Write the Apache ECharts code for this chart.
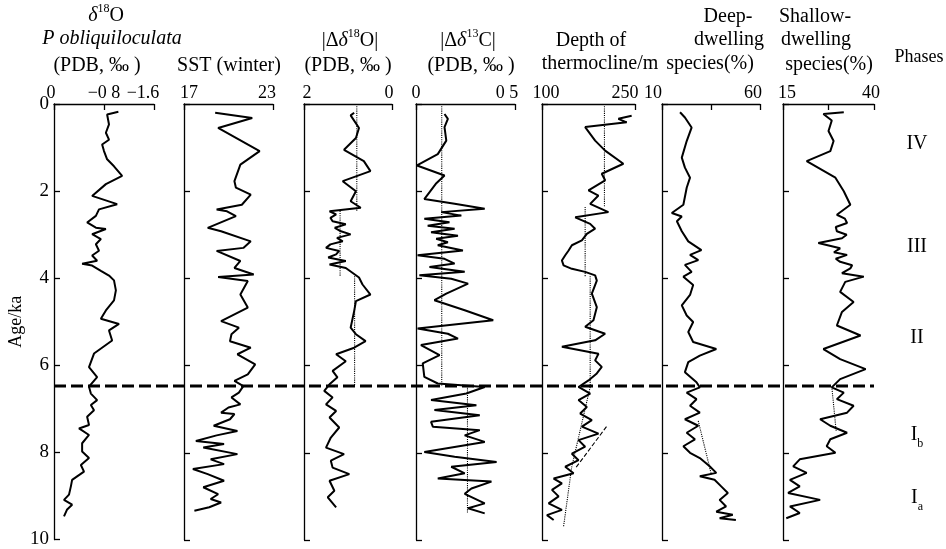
<!DOCTYPE html>
<html>
<head>
<meta charset="utf-8">
<title>Holocene profiles</title>
<style>
  html, body { margin: 0; padding: 0; background: #fff; }
  #main { width: 946px; height: 549px; }
</style>
</head>
<body>
<div id="main"></div>
<script src="https://cdn.jsdelivr.net/npm/echarts@6/dist/echarts.min.js"></script>
<script>
// every profile is a list of [age (ka), value]
var d18O = [[0.18,-1.03],[0.24,-0.85],[0.47,-0.88],[0.66,-0.83],[0.82,-0.88],[0.93,-0.77],[1.08,-0.80],[1.27,-0.85],[1.43,-0.96],[1.65,-1.09],[1.84,-0.83],[2.11,-0.61],[2.30,-1.01],[2.42,-0.72],[2.57,-0.67],[2.72,-0.53],[2.84,-0.67],[2.87,-0.83],[2.99,-0.61],[3.10,-0.75],[3.22,-0.67],[3.37,-0.72],[3.48,-0.61],[3.60,-0.69],[3.67,-0.45],[3.71,-0.61],[3.83,-0.75],[3.94,-0.88],[4.05,-0.96],[4.28,-0.99],[4.51,-0.96],[4.74,-0.83],[4.93,-0.75],[5.05,-1.04],[5.20,-0.88],[5.43,-0.93],[5.73,-0.64],[6.04,-0.56],[6.27,-0.69],[6.49,-0.56],[6.65,-0.59],[6.80,-0.69],[6.91,-0.59],[7.03,-0.64],[7.18,-0.53],[7.37,-0.56],[7.45,-0.40],[7.60,-0.56],[7.79,-0.45],[7.98,-0.45],[8.13,-0.56],[8.29,-0.43],[8.44,-0.48],[8.55,-0.37],[8.63,-0.29],[8.78,-0.27],[8.97,-0.24],[9.09,-0.16],[9.20,-0.29],[9.31,-0.21],[9.47,-0.16]];

var sstWinter = [[0.20,19.1],[0.32,21.6],[0.55,19.3],[1.08,22.1],[1.39,20.8],[1.77,20.4],[1.92,20.5],[2.08,21.5],[2.31,20.9],[2.42,19.2],[2.46,19.9],[2.57,20.5],[2.84,18.6],[2.92,19.5],[3.15,21.5],[3.30,21.0],[3.37,19.2],[3.60,20.8],[3.76,20.4],[3.91,21.7],[3.97,19.3],[4.06,21.3],[4.37,20.8],[4.67,21.3],[4.98,19.5],[5.13,20.7],[5.28,20.2],[5.44,20.1],[5.59,21.5],[5.74,20.6],[5.97,21.8],[6.20,21.3],[6.35,20.4],[6.47,21.0],[6.62,20.7],[6.73,20.2],[6.89,20.8],[6.96,20.0],[7.08,19.5],[7.11,20.4],[7.23,20.1],[7.38,19.0],[7.50,20.6],[7.60,19.2],[7.73,17.8],[7.80,19.7],[7.88,18.3],[8.03,20.6],[8.15,18.8],[8.26,19.7],[8.37,17.6],[8.49,18.6],[8.64,19.7],[8.79,18.3],[8.95,19.3],[9.06,18.8],[9.14,19.5],[9.25,18.7],[9.33,17.7]];

var dO18Abs = [[0.20,0.86],[0.26,0.94],[0.55,0.75],[0.78,0.82],[1.05,1.09],[1.31,0.64],[1.54,0.49],[1.77,1.12],[2.00,0.82],[2.23,0.94],[2.38,0.71],[2.46,1.42],[2.53,1.27],[2.61,1.40],[2.69,1.35],[2.76,1.05],[2.84,1.30],[2.92,1.16],[2.99,0.94],[3.07,1.25],[3.15,1.12],[3.22,1.40],[3.30,1.50],[3.37,1.20],[3.45,1.27],[3.52,1.45],[3.60,1.05],[3.68,1.42],[3.76,1.05],[3.87,0.90],[3.98,0.75],[4.14,0.67],[4.37,0.49],[4.52,0.82],[4.75,0.86],[5.13,0.94],[5.28,0.82],[5.44,0.60],[5.59,0.86],[5.74,1.27],[5.90,1.05],[6.12,1.35],[6.27,1.24],[6.43,1.42],[6.58,1.54],[6.73,1.35],[6.89,1.50],[7.04,1.27],[7.19,1.42],[7.42,1.20],[7.65,1.39],[7.88,1.50],[8.03,1.09],[8.18,1.39],[8.34,1.35],[8.49,0.97],[8.64,1.42],[8.87,1.31],[9.02,1.46],[9.25,1.27]];

var dC13Abs = [[0.23,0.144],[0.34,0.161],[0.53,0.144],[0.84,0.153],[1.15,0.110],[1.41,0.005],[1.64,0.144],[1.83,0.100],[2.18,0.042],[2.29,0.195],[2.40,0.347],[2.48,0.127],[2.56,0.229],[2.63,0.042],[2.71,0.169],[2.79,0.059],[2.86,0.195],[2.94,0.076],[3.02,0.212],[3.09,0.102],[3.17,0.161],[3.24,0.110],[3.36,0.237],[3.47,0.008],[3.55,0.144],[3.66,0.195],[3.74,0.068],[3.85,0.246],[3.93,0.017],[4.01,0.178],[4.12,0.263],[4.35,0.153],[4.50,0.093],[4.73,0.246],[4.96,0.390],[5.15,0.008],[5.27,0.161],[5.38,0.212],[5.53,0.025],[5.76,0.119],[5.95,0.034],[6.26,0.042],[6.41,0.110],[6.49,0.347],[6.64,0.254],[6.79,0.076],[6.91,0.305],[7.02,0.093],[7.14,0.322],[7.29,0.076],[7.40,0.085],[7.48,0.322],[7.60,0.246],[7.75,0.347],[7.98,0.042],[8.09,0.195],[8.21,0.407],[8.32,0.178],[8.47,0.246],[8.59,0.110],[8.66,0.381],[8.82,0.280],[8.94,0.246],[9.16,0.347],[9.27,0.263],[9.39,0.347]];

var thermocline = [[0.27,244.6],[0.34,223.2],[0.42,236.6],[0.53,169.6],[0.84,185.7],[1.07,201.8],[1.37,231.2],[1.60,196.4],[1.75,201.8],[1.98,175.0],[2.10,191.0],[2.29,177.7],[2.48,207.1],[2.60,153.6],[2.75,177.7],[2.86,185.7],[2.98,172.3],[3.13,164.3],[3.24,148.2],[3.36,142.9],[3.47,137.5],[3.59,132.1],[3.70,134.8],[3.78,148.2],[3.85,169.6],[3.93,185.7],[4.05,188.4],[4.35,180.4],[4.66,188.4],[4.96,183.0],[5.11,169.6],[5.27,201.8],[5.42,185.7],[5.57,132.1],[5.73,191.1],[5.88,185.7],[6.03,196.4],[6.18,188.4],[6.34,175.0],[6.49,158.9],[6.64,177.7],[6.79,158.9],[6.95,172.3],[7.10,161.6],[7.25,180.4],[7.40,164.3],[7.56,191.1],[7.71,158.9],[7.86,169.6],[8.02,148.2],[8.17,158.9],[8.32,137.5],[8.47,150.9],[8.59,118.8],[8.70,132.1],[8.85,116.1],[9.00,126.8],[9.16,110.7],[9.31,132.1],[9.43,108.0],[9.54,118.8]];

var deepDwelling = [[0.19,19.2],[0.31,21.7],[0.54,25.1],[0.85,22.6],[1.23,20.1],[1.46,21.7],[1.69,24.3],[1.92,22.6],[2.31,20.9],[2.50,15.0],[2.58,20.1],[2.69,17.6],[2.92,20.1],[3.15,23.4],[3.35,30.1],[3.46,24.3],[3.58,28.5],[3.69,21.7],[3.85,25.1],[3.96,20.9],[4.15,25.9],[4.38,24.3],[4.62,20.1],[4.85,22.6],[5.00,25.9],[5.23,23.4],[5.46,25.9],[5.62,37.7],[5.77,29.3],[5.92,23.4],[6.15,21.7],[6.38,27.6],[6.50,29.3],[6.62,22.6],[6.77,27.6],[6.92,24.3],[7.08,29.3],[7.23,21.7],[7.38,28.5],[7.54,22.6],[7.69,26.8],[7.85,20.9],[8.00,24.3],[8.12,29.3],[8.31,34.3],[8.46,37.7],[8.54,29.3],[8.62,36.8],[8.77,40.2],[8.92,43.6],[9.08,39.4],[9.23,42.7],[9.35,37.7],[9.42,46.1],[9.50,39.4],[9.54,47.7]];

var shallowDwelling = [[0.19,31.7],[0.23,26.1],[0.38,28.4],[0.62,27.5],[0.85,28.9],[1.08,28.0],[1.31,21.5],[1.69,29.4],[2.00,31.7],[2.31,33.5],[2.54,29.8],[2.63,32.0],[2.73,32.6],[2.82,29.5],[2.92,29.8],[3.00,32.5],[3.08,31.2],[3.19,24.7],[3.31,30.7],[3.40,29.0],[3.46,32.6],[3.55,29.5],[3.62,30.7],[3.70,34.0],[3.77,33.5],[3.88,31.2],[3.96,37.2],[4.08,32.1],[4.31,30.7],[4.54,34.4],[4.77,31.2],[5.08,29.8],[5.31,36.3],[5.62,26.1],[5.85,30.7],[6.08,37.7],[6.31,30.7],[6.50,28.4],[6.62,31.7],[6.77,29.8],[6.92,34.4],[7.08,32.6],[7.23,25.2],[7.38,28.0],[7.54,32.6],[7.69,28.0],[7.85,27.0],[8.00,29.4],[8.15,19.6],[8.31,17.8],[8.46,21.5],[8.62,16.9],[8.77,19.6],[8.92,16.4],[9.08,25.2],[9.23,16.9],[9.38,19.6],[9.50,15.9]];

// dotted / dashed guide segments: [panel, line type, points]
var guideLines = [
  [2, 'dotted', [[0, 0.80], [2.45, 0.80]]],
  [2, 'dotted', [[2.45, 1.18], [3.95, 1.18]]],
  [2, 'dotted', [[3.95, 0.85], [6.47, 0.85]]],
  [3, 'dotted', [[0, 0.13], [6.47, 0.13]]],
  [3, 'dotted', [[6.47, 0.26], [9.40, 0.26]]],
  [4, 'dotted', [[0, 200.7], [2.36, 200.7]]],
  [4, 'dotted', [[2.36, 169.6], [3.95, 169.6]]],
  [4, 'dotted', [[3.95, 177.7], [6.47, 177.7]]],
  [4, 'dotted', [[6.49, 177.7], [8.32, 148.0], [9.69, 134.8]]],
  [4, 'dashed', [[7.40, 204.0], [8.36, 153.6]]],
  [5, 'dotted', [[7.27, 28.5], [8.50, 35.2]]],
  [6, 'dotted', [[6.48, 28.4], [7.50, 29.6]]]
];

var profiles = [d18O, sstWinter, dO18Abs, dC13Abs, thermocline, deepDwelling, shallowDwelling];

var axisMin = [-1.6, 17, 0, 0, 100, 10, 15];
var axisMax = [0, 23, 2, 0.5, 250, 60, 40];
var axisInverse = [true, false, true, false, false, false, false];
var tickVals = [[-1.6, -0.8, 0], [17, 23], [0, 2], [0, 0.5], [100, 250], [10, 35, 60], [15, 27.5, 40]];
var labelVals = [[0, -0.8, -1.6], [17, 23], [2, 0], [0, 0.5], [100, 250], [10, 60], [15, 40]];
var labelText = [['0', '−0 8', '−1.6'], ['17', '23'], ['2', '0'], ['0', '0 5'], ['100', '250'], ['10', '60'], ['15', '40']];
var ageTicks = [0, 2, 4, 6, 8, 10];
var boundaryAge = 6.47;
var phases = [['IV', 0.92], ['III', 3.27], ['II', 5.35], ['I_b', 7.58], ['I_a', 9.04]];

var titleLines = [
  ['{d|δ}{s|18}O', '{d|P obliquiloculata}', '(PDB, ‰ )'],
  ['SST (winter)'],
  ['|Δ{d|δ}{s|18}O|', '(PDB, ‰ )'],
  ['|Δ{d|δ}{s|13}C|', '(PDB, ‰ )'],
  ['Depth of', 'thermocline/m'],
  ['Deep-', 'dwelling', 'species(%)'],
  ['Shallow-', 'dwelling', 'species(%)'],
  ['Phases']
];

var FONT = '"Liberation Serif", "Times New Roman", serif';
var INK = '#000';
var TOP = 104, BOTTOM = 9;
// panel boxes [left, width]
var boxes = [[54, 100], [184, 89], [304, 88], [416, 99], [542, 93], [662, 98], [783, 91]];
// horizontal nudge of top tick labels (px)
var labelShift = [[-3, 0, -11], [5, -6], [3, -3], [0, -8], [4, -10], [-9, -7], [4, -3]];
// title anchors [x, y] per line
var titlePos = [
  [[106, 16], [112, 39], [97, 66]],
  [[229, 66]],
  [[350, 41], [348, 66]],
  [[468, 41], [471, 66]],
  [[591, 41], [600, 64]],
  [[728, 17], [729, 40], [710, 64]],
  [[815, 17], [816, 40], [829, 65]],
  [[919, 57]]
];

var titleRich = {
  d: { fontStyle: 'italic', fontSize: 20, fontFamily: FONT, fill: INK, lineHeight: 26 },
  s: { fontSize: 12, fontFamily: FONT, fill: INK, verticalAlign: 'top', lineHeight: 26 }
};

function padStyle(s) {
  return {
    fontSize: 18, fontFamily: FONT, color: INK,
    padding: s >= 0 ? [0, 0, 0, 2 * s] : [0, -2 * s, 0, 0]
  };
}

var grids = [], xAxes = [], yAxes = [], series = [];

boxes.forEach(function (b, i) {
  grids.push({ left: b[0], width: b[1], top: TOP, bottom: BOTTOM });
  var rich = {};
  labelShift[i].forEach(function (s, k) { rich['s' + k] = padStyle(s); });
  xAxes.push({
    gridIndex: i, type: 'value', position: 'top',
    min: axisMin[i], max: axisMax[i], inverse: axisInverse[i],
    axisLine: { show: true, onZero: false, lineStyle: { color: INK, width: 1.3 } },
    axisTick: { show: true, inside: true, length: 6, customValues: tickVals[i], lineStyle: { color: INK, width: 1.3 } },
    axisLabel: {
      show: true, customValues: labelVals[i], margin: 2,
      fontSize: 18, fontFamily: FONT, color: INK, rich: rich,
      formatter: (function (idx) {
        return function (v) {
          var k = labelVals[idx].findIndex(function (t) { return Math.abs(t - v) < 1e-9; });
          if (k < 0) return '';
          return '{s' + k + '|' + labelText[idx][k] + '}';
        };
      })(i)
    },
    splitLine: { show: false }
  });
  var ya = {
    gridIndex: i, type: 'value', inverse: true, min: 0, max: 10,
    axisLine: { show: true, onZero: false, lineStyle: { color: INK, width: 1.3 } },
    axisTick: { show: true, inside: true, length: 6, customValues: ageTicks, lineStyle: { color: INK, width: 1.3 } },
    axisLabel: { show: i === 0, customValues: ageTicks, margin: 5, fontSize: 19, fontFamily: FONT, color: INK },
    splitLine: { show: false }
  };
  if (i === 0) {
    ya.name = 'Age/ka';
    ya.nameLocation = 'middle';
    ya.nameGap = 29;
    ya.nameRotate = 90;
    ya.nameTextStyle = { fontSize: 18, fontFamily: FONT, color: INK };
  }
  yAxes.push(ya);
  series.push({
    type: 'line', xAxisIndex: i, yAxisIndex: i, symbol: 'none', z: 4,
    lineStyle: { color: INK, width: 2 },
    data: profiles[i].map(function (p) { return [p[1], p[0]]; })
  });
});

guideLines.forEach(function (g) {
  series.push({
    type: 'line', xAxisIndex: g[0], yAxisIndex: g[0], symbol: 'none', z: 3,
    lineStyle: { color: INK, width: 1.1, type: g[1] },
    data: g[2].map(function (p) { return [p[1], p[0]]; })
  });
});

// full-width boundary line (index 7) and phase column (index 8)
grids.push({ left: 54, width: 820, top: TOP, bottom: BOTTOM });
xAxes.push({ gridIndex: 7, type: 'value', min: 0, max: 1, show: false });
yAxes.push({ gridIndex: 7, type: 'value', inverse: true, min: 0, max: 10, show: false });
series.push({
  type: 'line', xAxisIndex: 7, yAxisIndex: 7, symbol: 'none', z: 6,
  lineStyle: { color: INK, width: 3, type: [12, 5] },
  data: [[0, boundaryAge], [1, boundaryAge]]
});
grids.push({ left: 890, width: 54, top: TOP, bottom: BOTTOM });
xAxes.push({ gridIndex: 8, type: 'value', min: 0, max: 1, show: false });
yAxes.push({ gridIndex: 8, type: 'value', inverse: true, min: 0, max: 10, show: false });

var graphics = [];
titleLines.forEach(function (lines, i) {
  lines.forEach(function (t, k) {
    graphics.push({
      type: 'text', x: titlePos[i][k][0], y: titlePos[i][k][1], silent: true,
      style: {
        text: t, align: 'center', verticalAlign: 'middle',
        fontSize: i === 7 ? 18 : 20, fontFamily: FONT, fill: INK, rich: titleRich
      }
    });
  });
});

var myChart = echarts.init(document.getElementById('main'), null, { renderer: 'canvas' });
myChart.setOption({
  backgroundColor: '#fff',
  animation: false,
  grid: grids,
  xAxis: xAxes,
  yAxis: yAxes,
  series: series,
  graphic: graphics
});

// phase labels placed on the age scale of the phase column
phases.forEach(function (p) {
  var pt = myChart.convertToPixel({ xAxisIndex: 8, yAxisIndex: 8 }, [0.5, p[1]]);
  graphics.push({
    type: 'text', x: pt[0], y: pt[1], silent: true,
    style: {
      text: p[0].replace(/_(\w)/, '{sub|$1}'), align: 'center', verticalAlign: 'middle',
      fontSize: 20, fontFamily: FONT, fill: INK,
      rich: { sub: { fontSize: 12, fontFamily: FONT, fill: INK, verticalAlign: 'bottom', lineHeight: 30 } }
    }
  });
});
myChart.setOption({ graphic: graphics });
</script>
</body>
</html>
